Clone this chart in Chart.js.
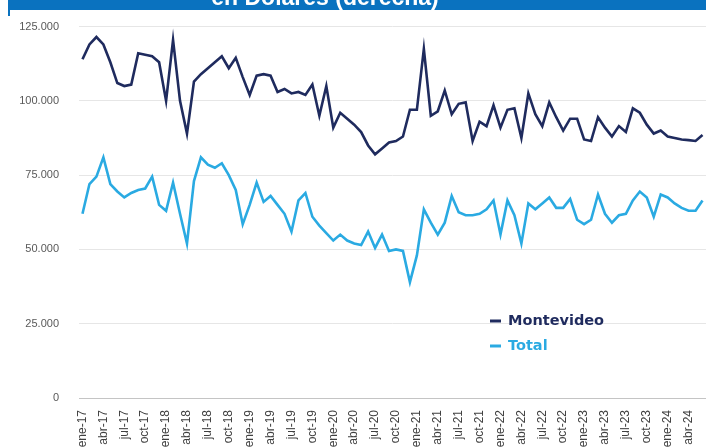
<!DOCTYPE html>
<html>
<head>
<meta charset="utf-8">
<script src="https://cdn.jsdelivr.net/npm/chart.js"></script>
<style>
  html, body { margin: 0; padding: 0; background: #fff; overflow: hidden; }
  #wrap { position: absolute; left: 0; top: 0; width: 706px; height: 447px; }
</style>
</head>
<body>
<div id="wrap"><canvas id="chart" width="706" height="447"></canvas></div>
<script>
// months shown on the axis, jan 2017 .. jun 2024
const monthNames = ['ene', 'feb', 'mar', 'abr', 'may', 'jun', 'jul', 'ago', 'sep', 'oct', 'nov', 'dic'];
const years = ['17', '18', '19', '20', '21', '22', '23', '24'];
const lastMonthIndex = 5; // jun-24

// values in thousands of dollars
const montevideo = [
  114, 119, 121.5, 119, 113, 106, 105, 105.5, 116, 115.5, 115, 113,
  100, 120.5, 100, 89, 106.5, 109, 111, 113, 115, 111, 114.5, 108,
  102, 108.5, 109, 108.5, 103, 104, 102.5, 103, 102, 105.5, 95, 105,
  91, 96, 94, 92, 89.5, 85, 82, 84, 86, 86.5, 88, 97,
  97, 117.5, 95, 96.5, 103.5, 95.5, 99, 99.5, 86.5, 93, 91.5, 98.5,
  91, 97, 97.5, 87.5, 102.5, 95.5, 91.5, 99.5, 94.5, 90, 94, 94,
  87, 86.5, 94.5, 91, 88, 91.5, 89.5, 97.5, 96, 92, 89, 90,
  88, 87.5, 87, 86.8, 86.5, 88.5
];
const total = [
  62, 72, 74.5, 81, 72, 69.5, 67.5, 69, 70, 70.5, 74.5, 65,
  63, 72.5, 62, 52, 73, 81, 78.5, 77.5, 79, 75, 70, 58.5,
  65, 72.5, 66, 68, 65, 62, 56, 66.5, 69, 61, 58, 55.5,
  53, 55, 53, 52, 51.5, 56, 50.5, 55, 49.5, 50, 49.5, 39,
  48, 63.5, 59, 55, 59, 68, 62.5, 61.5, 61.5, 62, 63.5, 66.5,
  55, 66.5, 61.5, 52, 65.5, 63.5, 65.5, 67.5, 64, 64, 67, 60,
  58.5, 60, 68.5, 62, 59, 61.5, 62, 66.5, 69.5, 67.5, 61, 68.5,
  67.5, 65.5, 64, 63, 63, 66.5
];
const yTicks = [0, 25, 50, 75, 100, 125];

const labels = [];
years.forEach((y, yi) => {
  monthNames.forEach((m, mi) => {
    if (yi < years.length - 1 || mi <= lastMonthIndex) labels.push(m + '-' + y);
  });
});

function fmtThousands(v) {
  return v === 0 ? '0' : v + '.000';
}

// blue title band cut off at the top of the image
const titleBand = {
  id: 'titleBand',
  afterDraw(chart) {
    const c = chart.ctx;
    c.save();
    c.fillStyle = '#0a72bf';
    c.fillRect(8, 0, 698, 10);
    c.fillRect(8, 0, 2, 16);
    c.fillStyle = '#fff';
    c.font = 'bold 23px "Liberation Sans", Arial, sans-serif';
    c.textAlign = 'center';
    c.textBaseline = 'alphabetic';
    c.fillText('en Dólares (derecha)', 325, 5);
    c.restore();
  }
};

// legend drawn inside the plot, text in series colour
const innerLegend = {
  id: 'innerLegend',
  afterDraw(chart) {
    const c = chart.ctx;
    c.save();
    c.font = 'bold 14.5px "DejaVu Sans", sans-serif';
    c.textBaseline = 'middle';
    chart.data.datasets.forEach((ds, i) => {
      const y = 321 + i * 25;
      c.strokeStyle = ds.borderColor;
      c.lineWidth = 3;
      c.beginPath();
      c.moveTo(490, y);
      c.lineTo(501, y);
      c.stroke();
      c.fillStyle = ds.borderColor;
      c.fillText(ds.label, 508, y);
    });
    c.restore();
  }
};

const ctx = document.getElementById('chart').getContext('2d');
new Chart(ctx, {
  type: 'line',
  data: {
    labels: labels,
    datasets: [
      {
        label: 'Montevideo',
        data: montevideo,
        borderColor: '#1f2b5e',
        borderWidth: 2.6,
        pointRadius: 0,
        tension: 0
      },
      {
        label: 'Total',
        data: total,
        borderColor: '#2aaae2',
        borderWidth: 2.6,
        pointRadius: 0,
        tension: 0
      }
    ]
  },
  options: {
    responsive: false,
    animation: false,
    devicePixelRatio: 1,
    layout: { padding: { left: 0, right: 0, top: 20, bottom: 0 } },
    plugins: {
      legend: { display: false },
      tooltip: { enabled: false }
    },
    scales: {
      x: {
        offset: true,
        grid: { display: false },
        border: { color: '#c4c4c4', width: 1 },
        afterFit: function(axis) {
          axis.height = 49;
          axis.paddingLeft = 0;
          axis.paddingRight = 0;
        },
        ticks: {
          autoSkip: false,
          maxRotation: 90,
          minRotation: 90,
          padding: 4,
          color: '#404040',
          font: { family: '"Liberation Sans", Arial, sans-serif', size: 12 },
          callback: function(val, i) {
            return i % 3 === 0 ? labels[i] : '';
          }
        }
      },
      y: {
        min: 0,
        max: 125,
        afterBuildTicks: function(axis) {
          axis.ticks = yTicks.map(v => ({ value: v }));
        },
        afterFit: function(axis) {
          axis.width = 79;
        },
        grid: { color: '#e6e6e6', drawTicks: false },
        border: { display: false },
        ticks: {
          padding: 20,
          color: '#595959',
          font: { family: '"Liberation Sans", Arial, sans-serif', size: 11 },
          callback: function(v) { return fmtThousands(v); }
        }
      }
    }
  },
  plugins: [titleBand, innerLegend]
});
</script>
</body>
</html>
